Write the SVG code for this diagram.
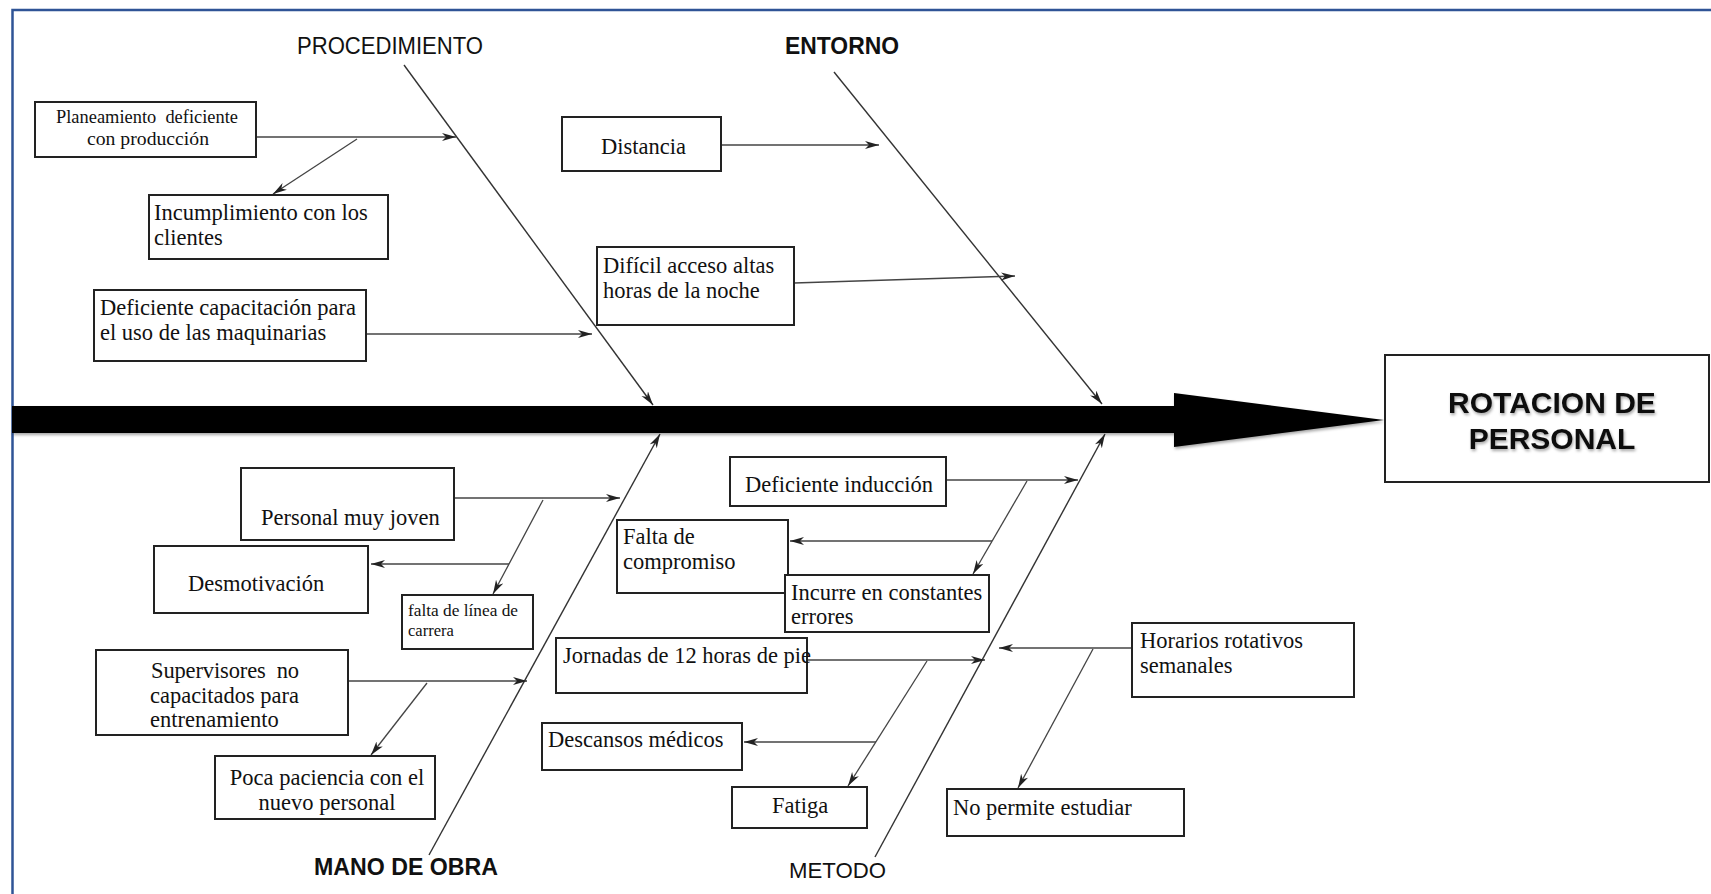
<svg xmlns="http://www.w3.org/2000/svg" width="1711" height="894" viewBox="0 0 1711 894">
<style>
.box{fill:#fff;stroke:#222;stroke-width:2}
.t{font-family:"Liberation Serif","Times New Roman",serif;font-size:22.5px;fill:#111}
.ts{font-size:18.5px}
.tx{font-size:16.5px}
.lbl{font-family:"Liberation Sans",Arial,sans-serif;font-size:23px;fill:#111}
.lm{font-size:22px}
.big{font-size:30px}
.b{font-weight:bold}
.bone{stroke:#333;stroke-width:1.4;fill:none}
.con{stroke:#444;stroke-width:1.3;fill:none}
</style>
<defs>
<marker id="ah" markerUnits="userSpaceOnUse" markerWidth="16" markerHeight="10" refX="14" refY="4" orient="auto">
<path d="M0,0 L14,4 L0,8 L4,4 z" fill="#222"/>
</marker>
<filter id="sh" x="-5%" y="-20%" width="110%" height="150%">
<feDropShadow dx="1" dy="2" stdDeviation="1.5" flood-color="#000" flood-opacity="0.35"/>
</filter>
</defs>
<rect width="1711" height="894" fill="#fff"/>
<path d="M12.5,894 L12.5,10 L1711,10" fill="none" stroke="#2F5496" stroke-width="2.5"/>

<g id="spine" filter="url(#sh)">
<rect x="12" y="406" width="1164" height="27" fill="#000"/>
<polygon points="1174,393 1384,420 1174,447" fill="#000"/>
</g>

<g id="connectors">
<line class="bone" x1="404" y1="65" x2="653" y2="405" marker-end="url(#ah)"/>
<line class="bone" x1="834" y1="72" x2="1102" y2="404" marker-end="url(#ah)"/>
<line class="bone" x1="429" y1="855" x2="660" y2="434" marker-end="url(#ah)"/>
<line class="bone" x1="875" y1="857" x2="1105" y2="434" marker-end="url(#ah)"/>
<line class="con" x1="256" y1="137" x2="456" y2="137" marker-end="url(#ah)"/>
<line class="con" x1="357" y1="139" x2="273" y2="194" marker-end="url(#ah)"/>
<line class="con" x1="366" y1="334" x2="592" y2="334" marker-end="url(#ah)"/>
<line class="con" x1="721" y1="145" x2="879" y2="145" marker-end="url(#ah)"/>
<line class="con" x1="794" y1="283" x2="1015" y2="276" marker-end="url(#ah)"/>
<line class="con" x1="454" y1="498" x2="620" y2="498" marker-end="url(#ah)"/>
<line class="con" x1="543" y1="500" x2="493" y2="594" marker-end="url(#ah)"/>
<line class="con" x1="509" y1="564" x2="371" y2="564" marker-end="url(#ah)"/>
<line class="con" x1="348" y1="681" x2="527" y2="681" marker-end="url(#ah)"/>
<line class="con" x1="427" y1="683" x2="371" y2="755" marker-end="url(#ah)"/>
<line class="con" x1="946" y1="480" x2="1078" y2="480" marker-end="url(#ah)"/>
<line class="con" x1="1027" y1="481" x2="973" y2="574" marker-end="url(#ah)"/>
<line class="con" x1="992" y1="541" x2="790" y2="541" marker-end="url(#ah)"/>
<line class="con" x1="807" y1="660" x2="985" y2="660" marker-end="url(#ah)"/>
<line class="con" x1="927" y1="661" x2="848" y2="786" marker-end="url(#ah)"/>
<line class="con" x1="876" y1="742" x2="744" y2="742" marker-end="url(#ah)"/>
<line class="con" x1="1132" y1="648" x2="999" y2="648" marker-end="url(#ah)"/>
<line class="con" x1="1093" y1="649" x2="1018" y2="788" marker-end="url(#ah)"/>
</g>

<g id="lbl-procedimiento"><text class="lbl" x="297" y="54" textLength="186" lengthAdjust="spacingAndGlyphs">PROCEDIMIENTO</text></g>
<g id="lbl-entorno"><text class="lbl b" x="785" y="54" textLength="114" lengthAdjust="spacingAndGlyphs">ENTORNO</text></g>
<g id="lbl-manodeobra"><text class="lbl b" x="314" y="875" textLength="184" lengthAdjust="spacingAndGlyphs">MANO DE OBRA</text></g>
<g id="lbl-metodo"><text class="lbl lm" x="789" y="878" textLength="97" lengthAdjust="spacingAndGlyphs">METODO</text></g>

<g id="n-planeamiento">
<rect class="box" x="35" y="102" width="221" height="55"/>
<text class="t ts" x="56" y="123" textLength="182" lengthAdjust="spacingAndGlyphs" xml:space="preserve">Planeamiento  deficiente</text>
<text class="t ts" x="87" y="145" textLength="122" lengthAdjust="spacingAndGlyphs">con producción</text>
</g>
<g id="n-incumplimiento">
<rect class="box" x="149" y="195" width="239" height="64"/>
<text class="t" x="154" y="220">Incumplimiento con los</text>
<text class="t" x="154" y="245">clientes</text>
</g>
<g id="n-capacitacion">
<rect class="box" x="94" y="290" width="272" height="71"/>
<text class="t" x="100" y="315">Deficiente capacitación para</text>
<text class="t" x="100" y="340">el uso de las maquinarias</text>
</g>
<g id="n-distancia">
<rect class="box" x="562" y="117" width="159" height="54"/>
<text class="t" x="601" y="154">Distancia</text>
</g>
<g id="n-dificil">
<rect class="box" x="597" y="247" width="197" height="78"/>
<text class="t" x="603" y="273">Difícil acceso altas</text>
<text class="t" x="603" y="298">horas de la noche</text>
</g>
<g id="n-rotacion">
<rect class="box" x="1385" y="355" width="324" height="127"/>
<g filter="url(#sh)">
<text class="lbl b big" x="1552" y="413" text-anchor="middle">ROTACION DE</text>
<text class="lbl b big" x="1552" y="449" text-anchor="middle">PERSONAL</text>
</g>
</g>
<g id="n-personal">
<rect class="box" x="241" y="468" width="213" height="72"/>
<text class="t" x="261" y="525">Personal muy joven</text>
</g>
<g id="n-desmotivacion">
<rect class="box" x="154" y="546" width="214" height="67"/>
<text class="t" x="188" y="591">Desmotivación</text>
</g>
<g id="n-carrera">
<rect class="box" x="402" y="595" width="131" height="54"/>
<text class="t tx" x="408" y="616" textLength="110" lengthAdjust="spacingAndGlyphs">falta de línea de</text>
<text class="t tx" x="408" y="636">carrera</text>
</g>
<g id="n-supervisores">
<rect class="box" x="96" y="650" width="252" height="85"/>
<text class="t" x="151" y="678" textLength="148" xml:space="preserve">Supervisores  no</text>
<text class="t" x="150" y="703" textLength="149">capacitados para</text>
<text class="t" x="150" y="727">entrenamiento</text>
</g>
<g id="n-paciencia">
<rect class="box" x="215" y="756" width="220" height="63"/>
<text class="t" x="327" y="785" text-anchor="middle">Poca paciencia con el</text>
<text class="t" x="327" y="810" text-anchor="middle">nuevo personal</text>
</g>
<g id="n-induccion">
<rect class="box" x="730" y="457" width="216" height="49"/>
<text class="t" x="745" y="492">Deficiente inducción</text>
</g>
<g id="n-compromiso">
<rect class="box" x="617" y="520" width="171" height="73"/>
<text class="t" x="623" y="544">Falta de</text>
<text class="t" x="623" y="569">compromiso</text>
</g>
<g id="n-errores">
<rect class="box" x="785" y="575" width="204" height="57"/>
<text class="t" x="791" y="600">Incurre en constantes</text>
<text class="t" x="791" y="624">errores</text>
</g>
<g id="n-jornadas">
<rect class="box" x="556" y="638" width="251" height="55"/>
<text class="t" x="563" y="663">Jornadas de 12 horas de pie</text>
</g>
<g id="n-descansos">
<rect class="box" x="542" y="723" width="200" height="47"/>
<text class="t" x="548" y="747">Descansos médicos</text>
</g>
<g id="n-fatiga">
<rect class="box" x="732" y="787" width="135" height="41"/>
<text class="t" x="800" y="813" text-anchor="middle">Fatiga</text>
</g>
<g id="n-horarios">
<rect class="box" x="1132" y="623" width="222" height="74"/>
<text class="t" x="1140" y="648">Horarios rotativos</text>
<text class="t" x="1140" y="673">semanales</text>
</g>
<g id="n-estudiar">
<rect class="box" x="947" y="789" width="237" height="47"/>
<text class="t" x="953" y="815">No permite estudiar</text>
</g>
</svg>
